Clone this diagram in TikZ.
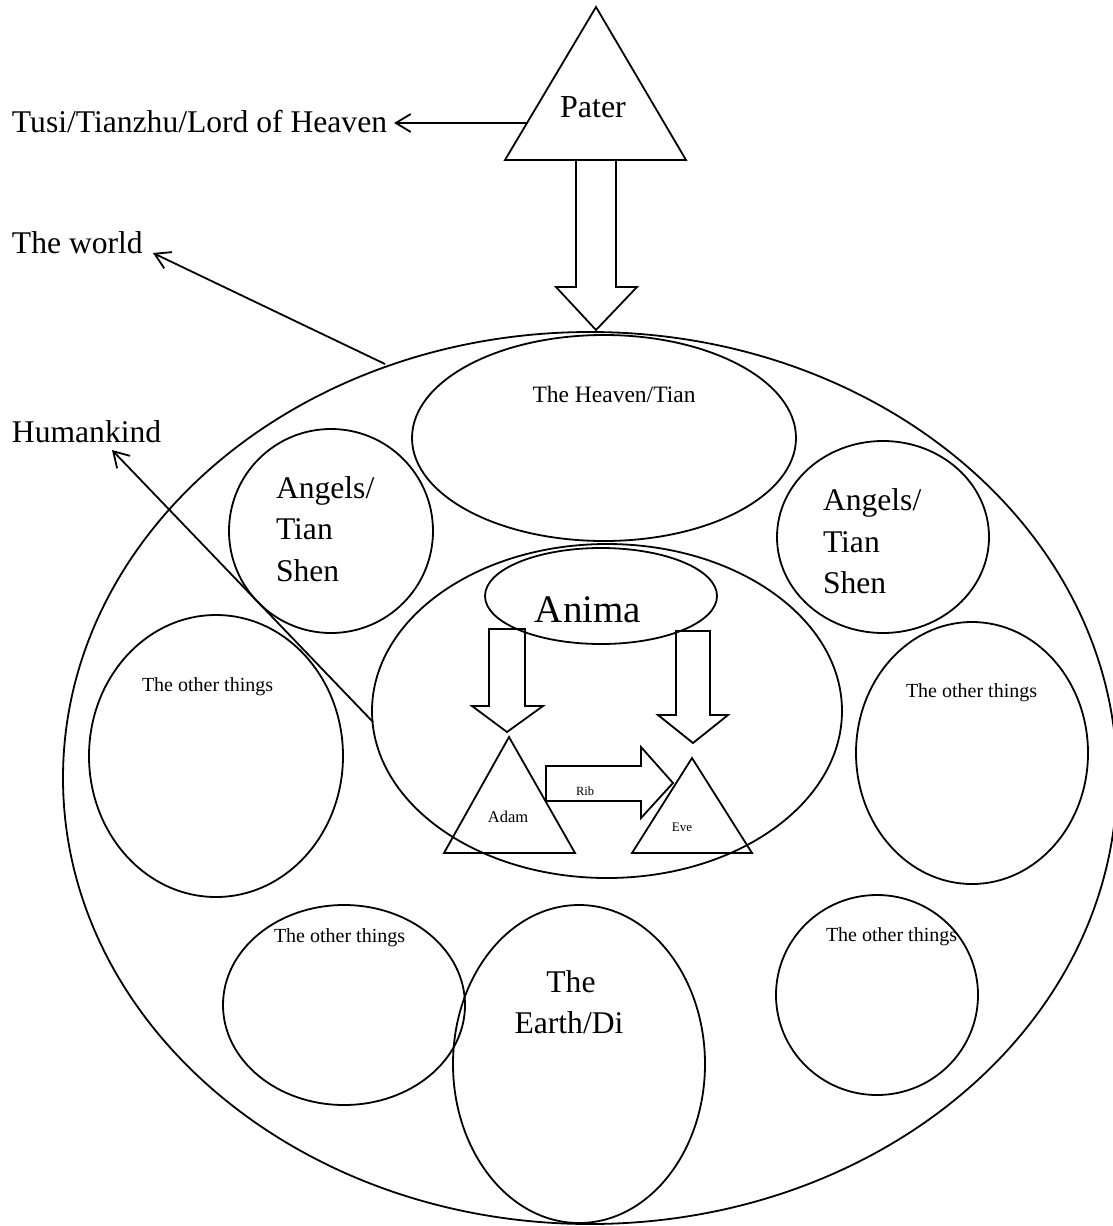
\documentclass[tikz,border=0pt]{standalone}
\usepackage{fontspec}
\setmainfont{Liberation Serif}
\usetikzlibrary{shapes.geometric,arrows.meta}
\begin{document}
\begin{tikzpicture}[x=1pt,y=-1pt,line width=1.8pt,line join=miter,
  shp/.style={draw,ellipse,inner sep=0pt,outer sep=0pt},
  lbl/.style={inner sep=0pt,outer sep=0pt},
  big/.style={lbl,font=\fontsize{31.6}{38}\selectfont},
  mid/.style={lbl,font=\fontsize{23.5}{28}\selectfont},
  small/.style={lbl,font=\fontsize{20}{24}\selectfont},
  arr/.style={-{Straight Barb[length=15pt,width=18pt,line width=1.8pt]}},
  blockarrow/.style={draw}]
\useasboundingbox (0,0) rectangle (1113,1226);

% ellipses / circles
\node[shp,minimum width=1054pt,minimum height=892pt] (world) at (590,778) {};
\node[shp,minimum width=384pt,minimum height=206pt] (heaven) at (604,438) {};
\node[shp,minimum width=204pt,minimum height=204pt] (angelsL) at (331,531) {};
\node[shp,minimum width=212pt,minimum height=192pt] (angelsR) at (883,537) {};
\node[shp,minimum width=470pt,minimum height=334pt] (human) at (607,711) {};
\node[shp,minimum width=232pt,minimum height=96pt] (anima) at (601,596) {};
\node[shp,minimum width=254pt,minimum height=282pt] (otherL) at (216,756) {};
\node[shp,minimum width=232pt,minimum height=262pt] (otherR) at (972,753) {};
\node[shp,minimum width=242pt,minimum height=200pt] (otherBL) at (344,1005) {};
\node[shp,minimum width=252pt,minimum height=318pt] (earth) at (579,1064) {};
\node[shp,minimum width=202pt,minimum height=200pt] (otherBR) at (877,995) {};

% triangles
\coordinate (paterTop) at (596,7);
\coordinate (paterL) at (505,160);
\coordinate (paterR) at (686,160);
\draw (paterTop) -- (paterL) -- (paterR) -- cycle;
\coordinate (adamTop) at (509,737);
\coordinate (adamL) at (444,853);
\coordinate (adamR) at (575,853);
\draw (adamTop) -- (adamL) -- (adamR) -- cycle;
\coordinate (eveTop) at (692,758);
\coordinate (eveL) at (632,853);
\coordinate (eveR) at (752,853);
\draw (eveTop) -- (eveL) -- (eveR) -- cycle;

% block arrows
\draw[blockarrow] (576,160) -- (576,287) -- (556,287) -- (596,330) -- (637,287) -- (616,287) -- (616,160) -- cycle;
\draw[blockarrow] (489,629) -- (489,706) -- (472,706) -- (507,732) -- (543,706) -- (525,706) -- (525,629) -- cycle;
\draw[blockarrow] (676,631) -- (676,715) -- (658,715) -- (693,743) -- (728,715) -- (710,715) -- (710,631) -- cycle;
\draw[blockarrow] (546,766) -- (641,766) -- (641,747) -- (673,783) -- (641,818) -- (641,801) -- (546,801) -- cycle;

% texts
\node[lbl,font=\fontsize{32}{38}\selectfont,anchor=base] (pater) at (593,117) {Pater};
\node[big,anchor=base west] (tusi) at (12,132) {Tusi/Tianzhu/Lord of Heaven};
\node[big,anchor=base west] (worldlbl) at (12,253) {The world};
\node[big,anchor=base west] (humanlbl) at (12,442) {Humankind};
\node[mid,anchor=base] (heavenlbl) at (614,402) {The Heaven/Tian};
\node[big,anchor=base west] (angLa) at (276,498) {Angels/};
\node[big,anchor=base west] (angLb) at (276,539) {Tian};
\node[big,anchor=base west] (angLc) at (276,581) {Shen};
\node[big,anchor=base west] (angRa) at (823,510) {Angels/};
\node[big,anchor=base west] (angRb) at (823,552) {Tian};
\node[big,anchor=base west] (angRc) at (823,593) {Shen};
\node[lbl,font=\fontsize{39}{46}\selectfont,anchor=base] (animalbl) at (588,622) {Anima};
\node[small,anchor=base west] (otherLlbl) at (142,691) {The other things};
\node[small,anchor=base west] (otherRlbl) at (906,697) {The other things};
\node[small,anchor=base west] (otherBLlbl) at (274,942) {The other things};
\node[small,anchor=base west] (otherBRlbl) at (826,941) {The other things};
\node[big,anchor=base] (eartha) at (571,992) {The};
\node[big,anchor=base] (earthb) at (569,1033) {Earth/Di};
\node[lbl,font=\fontsize{16.5}{20}\selectfont,anchor=base] (adam) at (508,822) {Adam};
\node[lbl,font=\fontsize{13}{16}\selectfont,anchor=base] (eve) at (682,831) {Eve};
\node[lbl,font=\fontsize{12.5}{15}\selectfont,anchor=base west] (rib) at (576,795) {Rib};

% thin arrows
\coordinate (tusiFrom) at (528,123);
\coordinate (tusiTip) at (394,123);
\draw[arr] (tusiFrom) -- (tusiTip);
\coordinate (worldFrom) at (385,364);
\coordinate (worldTip) at (153,253);
\draw[arr] (worldFrom) -- (worldTip);
\coordinate (humanFrom) at (373,722);
\coordinate (humanTip) at (112,450);
\draw[arr] (humanFrom) -- (humanTip);
\end{tikzpicture}
\end{document}
